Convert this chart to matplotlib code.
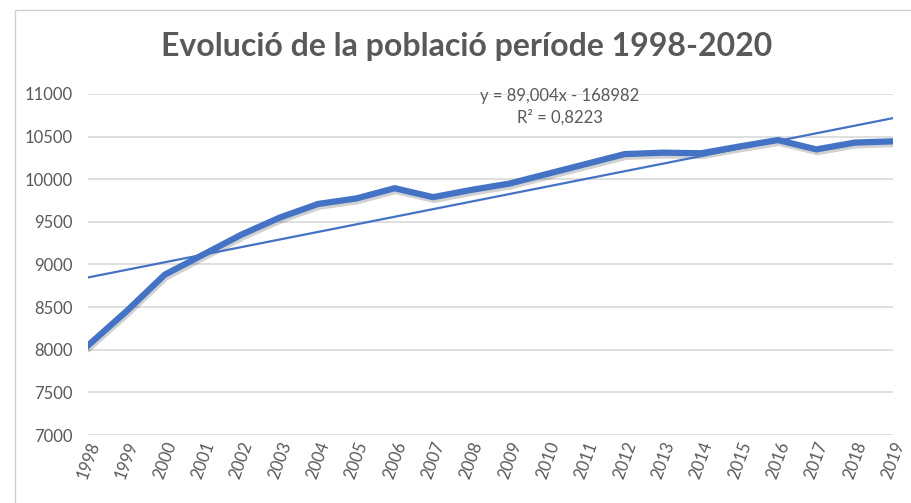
# Evolucio de la poblacio 1998-2020, line + linear trendline (excel style)

import numpy as np
import matplotlib.pyplot as plt
import matplotlib.patheffects as pe
from matplotlib.patches import Rectangle

plt.rcParams['font.family'] = ['Lato', 'DejaVu Sans']

# data
years = [1998, 1999, 2000, 2001, 2002, 2003, 2004, 2005, 2006, 2007, 2008,
         2009, 2010, 2011, 2012, 2013, 2014, 2015, 2016, 2017, 2018, 2019]
population = [8050, 8450, 8880, 9115, 9350, 9550, 9710, 9775, 9895, 9790, 9875,
              9950, 10065, 10180, 10295, 10312, 10305, 10385, 10460, 10350, 10430, 10445]

# trendline coefficients shown on the chart
slope = 89.004
intercept = -168982
r2 = 0.8223

yticks = [7000, 7500, 8000, 8500, 9000, 9500, 10000, 10500, 11000]

blue = "#4472C4"
grey_text = "#595959"
grid_col = "#D9D9D9"

fig = plt.figure(figsize=(9.11, 5.03), dpi=100)
fig.patch.set_facecolor("white")

# chart area border (cropped at right/bottom)
fig.patches.append(Rectangle((15 / 911, -0.1), 1.2, 1 - 10 / 503 + 0.1,
                             transform=fig.transFigure, fill=False,
                             edgecolor="#D0D0D0", lw=1.0))

ax = fig.add_axes([88 / 911, 1 - 435 / 503, (893 - 88) / 911, (435 - 94) / 503])

x = np.array(years)
trend = slope * x + intercept

ax.plot(x, population, color=blue, lw=4.5, solid_joinstyle="round",
        path_effects=[pe.SimpleLineShadow(offset=(0.8, -2.0), shadow_color="black", alpha=0.18),
                      pe.Normal()], zorder=3)
ax.plot(x, trend, color=blue, lw=1.6, zorder=4)

ax.set_xlim(years[0], years[-1])
ax.set_ylim(yticks[0], yticks[-1])
ax.set_yticks(yticks)
ax.set_xticks(years)
ax.set_xticklabels([str(y) for y in years], rotation=70, ha="center")
ax.tick_params(axis="both", length=0, colors=grey_text, labelsize=12)
ax.tick_params(axis="y", pad=11)
ax.tick_params(axis="x", pad=3)
ax.grid(axis="y", color=grid_col, lw=1.2)
ax.set_axisbelow(True)
for s in ax.spines.values():
    s.set_visible(False)

# trendline equation
eq = "y = %sx - %d" % (f"{slope:.3f}".replace(".", ","), -intercept)
ax.text(2010.3, 10975, eq, ha="center", va="center", color=grey_text, fontsize=12)
ax.text(2010.3, 10730, "R² = " + f"{r2:.4f}".replace(".", ","), ha="center", va="center",
        color=grey_text, fontsize=12)

fig.text(467 / 911, 1 - 46 / 503, "Evolució de la població període 1998-2020",
         ha="center", va="center", fontsize=23, fontweight="bold", color=grey_text)

fig.savefig("out.png", dpi=100)
